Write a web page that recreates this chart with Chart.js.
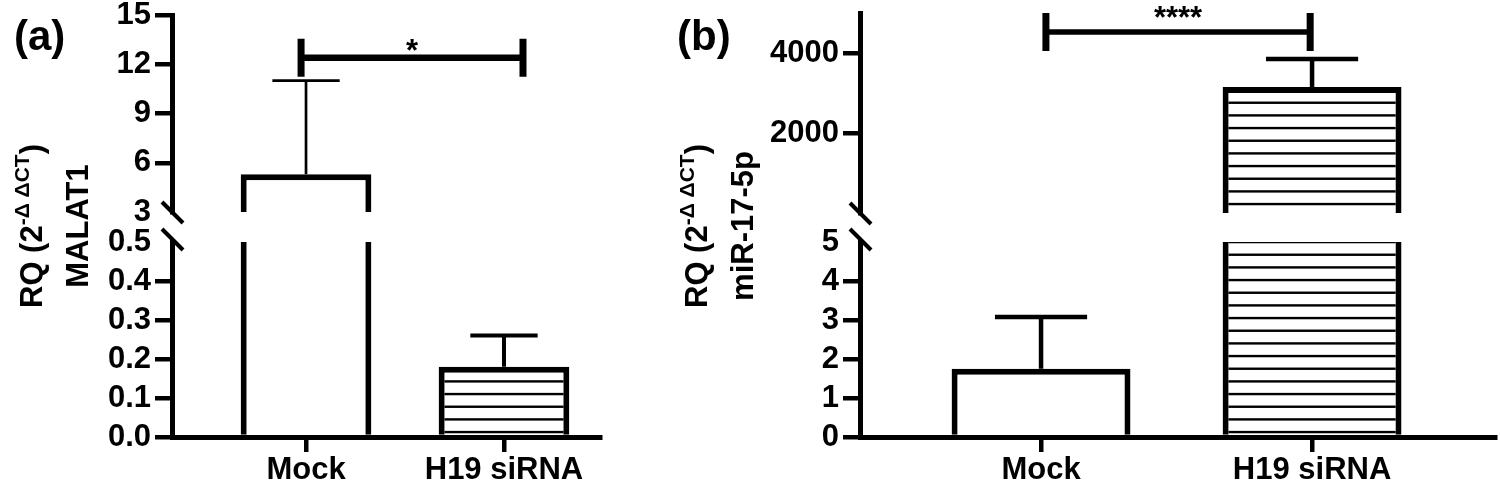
<!DOCTYPE html>
<html>
<head>
    <meta charset="utf-8">
    <title>RQ MALAT1 / miR-17-5p</title>
    <script src="https://cdn.jsdelivr.net/npm/chart.js"></script>
    <style>
        body { margin: 0; background: #fff; }
        #wrap { position: relative; width: 1500px; height: 493px; }
        #wrap canvas { position: absolute; left: 0; top: 0; }
    </style>
</head>
<body>
    <div id="wrap">
        <canvas id="aTop" width="1500" height="493"></canvas>
        <canvas id="aBottom" width="1500" height="493"></canvas>
        <canvas id="bTop" width="1500" height="493"></canvas>
        <canvas id="bBottom" width="1500" height="493"></canvas>
    </div>

    <script>
        var categories = ['Mock', 'H19 siRNA'];

        // (a) MALAT1
        var malatMean = [5.3, 0.18];
        var malatSd = [5.7, 0.08];
        var malatTopTicks = [3, 6, 9, 12, 15];
        var malatBottomTicks = [0, 0.1, 0.2, 0.3, 0.4, 0.5];
        var malatSig = { from: -0.025, to: 1.096, y: 12.4, text: '*' };

        // (b) miR-17-5p
        var mirMean = [1.75, 3150];
        var mirSd = [1.33, 700];
        var mirTopTicks = [2000, 4000];
        var mirBottomTicks = [0, 1, 2, 3, 4, 5];
        var mirSig = { from: 0.018, to: 0.993, y: 4525, text: '****' };

        var FONT = "'Liberation Sans', Arial, sans-serif";
        Chart.defaults.font.family = FONT;
        Chart.defaults.font.weight = 'bold';
        Chart.defaults.font.size = 31;
        Chart.defaults.color = '#000';

        // horizontal line fill used for the H19 siRNA bars
        function hatch(ctx) {
            var c = document.createElement('canvas');
            c.width = 8; c.height = 38;
            var g = c.getContext('2d');
            g.fillStyle = '#fff';
            g.fillRect(0, 0, 8, 38);
            g.fillStyle = '#000';
            for (var k = 0; k < 3; k++) g.fillRect(0, k * 38 / 3 + 0.2, 8, 2.4);
            return ctx.createPattern(c, 'repeat');
        }

        function drawRotated(ctx, bx, cy, parts) {
            ctx.save();
            ctx.translate(bx, cy);
            ctx.rotate(-Math.PI / 2);
            ctx.textBaseline = 'alphabetic';
            ctx.textAlign = 'left';
            var w = 0;
            parts.forEach(function (p) {
                ctx.font = 'bold ' + p.size + 'px ' + FONT;
                p.w = ctx.measureText(p.t).width;
                w += p.w;
            });
            var x = -w / 2;
            parts.forEach(function (p) {
                ctx.font = 'bold ' + p.size + 'px ' + FONT;
                ctx.fillText(p.t, x, -(p.rise || 0));
                x += p.w;
            });
            ctx.restore();
        }

        var extras = {
            id: 'extras',
            afterDatasetsDraw: function (chart, args, o) {
                var ctx = chart.ctx, xs = chart.scales.x, ys = chart.scales.y;
                var area = chart.chartArea;
                ctx.save();
                ctx.strokeStyle = '#000';
                ctx.fillStyle = '#000';

                // error bars: mean up to mean + SD, drawn in the segment holding the mean
                o.mean.forEach(function (m, i) {
                    if (m < ys.min || m > ys.max) return;
                    var px = xs.getPixelForValue(i);
                    var y0 = ys.getPixelForValue(m);
                    var y1 = ys.getPixelForValue(m + o.sd[i]);
                    ctx.lineWidth = o.errWidth[i];
                    ctx.beginPath();
                    ctx.moveTo(px, y0);
                    ctx.lineTo(px, y1);
                    ctx.moveTo(xs.getPixelForValue(i - o.cap / 2), y1);
                    ctx.lineTo(xs.getPixelForValue(i + o.cap / 2), y1);
                    ctx.stroke();
                });

                // axis break mark
                var by = o.breakAt === 'bottom' ? area.bottom : area.top - 3;
                ctx.lineWidth = 4;
                ctx.beginPath();
                ctx.moveTo(area.left - 10, by - 10);
                ctx.lineTo(area.left + 11, by + 11);
                ctx.stroke();

                // significance bracket
                if (o.sig) {
                    var x1 = xs.getPixelForValue(o.sig.from);
                    var x2 = xs.getPixelForValue(o.sig.to);
                    var sy = ys.getPixelForValue(o.sig.y);
                    ctx.lineWidth = o.sigWidth;
                    ctx.beginPath();
                    ctx.moveTo(x1, sy);
                    ctx.lineTo(x2, sy);
                    ctx.stroke();
                    ctx.lineWidth = 7;
                    ctx.beginPath();
                    ctx.moveTo(x1, sy - 19);
                    ctx.lineTo(x1, sy + 19);
                    ctx.moveTo(x2, sy - 19);
                    ctx.lineTo(x2, sy + 19);
                    ctx.stroke();
                    ctx.font = 'bold 31px ' + FONT;
                    ctx.textAlign = 'center';
                    ctx.textBaseline = 'alphabetic';
                    ctx.fillText(o.sig.text, (x1 + x2) / 2, sy + o.sigTextDy);
                }
                ctx.restore();
            },
            afterDraw: function (chart, args, o) {
                if (!o.title) return;
                var ctx = chart.ctx;
                ctx.save();
                ctx.fillStyle = '#000';
                drawRotated(ctx, o.title.x1, o.title.cy, [
                    { t: 'RQ (2', size: 31 },
                    { t: '-\u0394 \u0394CT', size: 21, rise: 13 },
                    { t: ')', size: 31 }
                ]);
                drawRotated(ctx, o.title.x2, o.title.cy, [{ t: o.title.name, size: 31 }]);
                ctx.font = 'bold 42px ' + FONT;
                ctx.textAlign = 'left';
                ctx.textBaseline = 'alphabetic';
                ctx.fillText(o.title.panel, o.title.px, 50);
                ctx.restore();
            }
        };

        function segment(id, o) {
            var ctx = document.getElementById(id).getContext('2d');
            return new Chart(ctx, {
                type: 'bar',
                data: {
                    datasets: [{
                        data: o.mean.map(function (v, i) { return { x: i, y: v }; }),
                        backgroundColor: ['#fff', hatch(ctx)],
                        borderColor: '#000',
                        borderWidth: 6,
                        borderSkipped: 'start',
                        barPercentage: 0.66,
                        categoryPercentage: 1,
                        clip: 0
                    }]
                },
                options: {
                    responsive: false,
                    animation: false,
                    events: [],
                    layout: { padding: o.padding },
                    plugins: {
                        legend: { display: false },
                        tooltip: { enabled: false },
                        extras: o
                    },
                    scales: {
                        x: {
                            type: 'linear',
                            min: o.xMin,
                            max: o.xMax,
                            offset: false,
                            display: o.showX,
                            z: 1,
                            afterBuildTicks: function (s) {
                                s.ticks = categories.map(function (c, i) { return { value: i }; });
                            },
                            afterFit: function (s) {
                                if (!o.showX) return;
                                s.height = 56;
                                s.paddingLeft = 0;
                                s.paddingRight = 0;
                            },
                            grid: { offset: false, drawOnChartArea: false, tickLength: 15, lineWidth: 4.5, color: '#000' },
                            border: { color: '#000', width: 5 },
                            ticks: {
                                padding: 0,
                                maxRotation: 0,
                                autoSkip: false,
                                callback: function (v) { return categories[v]; }
                            }
                        },
                        y: {
                            type: 'linear',
                            min: o.yMin,
                            max: o.yMax,
                            z: 1,
                            afterBuildTicks: function (s) {
                                s.ticks = o.ticks.map(function (v) { return { value: v }; });
                            },
                            afterFit: function (s) {
                                s.width = 100;
                                s.paddingTop = 0;
                                s.paddingBottom = 0;
                            },
                            grid: {
                                drawOnChartArea: false,
                                tickLength: 17,
                                lineWidth: 4.5,
                                color: function (c) {
                                    return c.tick && o.noMark.indexOf(c.tick.value) >= 0 ? 'rgba(0,0,0,0)' : '#000';
                                }
                            },
                            border: { color: '#000', width: 5 },
                            ticks: { padding: 4, autoSkip: false, callback: o.fmt }
                        }
                    }
                },
                plugins: [extras]
            });
        }

        var asText = function (v) { return String(v); };

        segment('aTop', {
            mean: malatMean, sd: malatSd, ticks: malatTopTicks, noMark: [3], fmt: asText,
            yMin: 3, yMax: 15, xMin: -0.677, xMax: 1.485, showX: false,
            padding: { left: 72, right: 900, top: 15, bottom: 281 },
            errWidth: [2.7, 4], cap: 0.34, breakAt: 'bottom',
            sig: malatSig, sigWidth: 6.5, sigTextDy: 3
        });
        segment('aBottom', {
            mean: malatMean, sd: malatSd, ticks: malatBottomTicks, noMark: [0.5],
            fmt: function (v) { return v.toFixed(1); },
            yMin: 0, yMax: 0.5, xMin: -0.677, xMax: 1.485, showX: true,
            padding: { left: 72, right: 900, top: 242, bottom: 0 },
            errWidth: [2.7, 4], cap: 0.34, breakAt: 'top',
            title: { x1: 42, x2: 88, cy: 226, name: 'MALAT1', panel: '(a)', px: 14 }
        });
        segment('bTop', {
            mean: mirMean, sd: mirSd, ticks: mirTopTicks, noMark: [], fmt: asText,
            yMin: 5, yMax: 5000, xMin: -0.668, xMax: 1.675, showX: false,
            padding: { left: 760, right: 5, top: 13, bottom: 280 },
            errWidth: [4.5, 4.5], cap: 0.34, breakAt: 'bottom',
            sig: mirSig, sigWidth: 5.5, sigTextDy: -4
        });
        segment('bBottom', {
            mean: mirMean, sd: mirSd, ticks: mirBottomTicks, noMark: [5], fmt: asText,
            yMin: 0, yMax: 5, xMin: -0.668, xMax: 1.675, showX: true,
            padding: { left: 760, right: 5, top: 242, bottom: 0 },
            errWidth: [4.5, 4.5], cap: 0.34, breakAt: 'top',
            title: { x1: 707, x2: 753, cy: 226, name: 'miR-17-5p', panel: '(b)', px: 677 }
        });
    </script>
</body>
</html>
